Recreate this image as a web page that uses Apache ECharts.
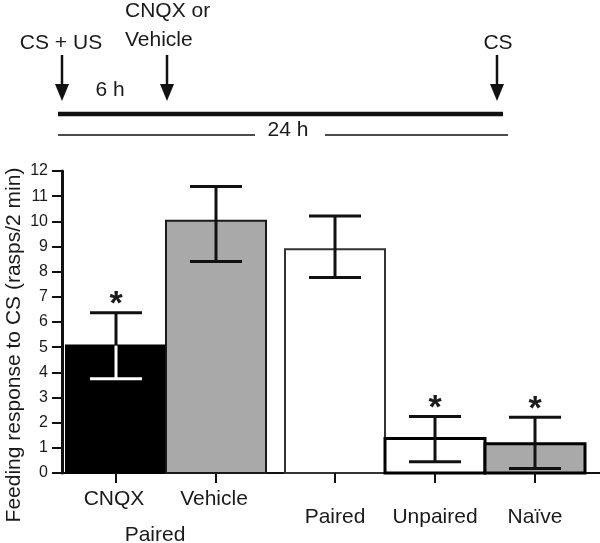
<!DOCTYPE html>
<html lang="en">
<head>
<meta charset="UTF-8">
<title>Feeding response to CS</title>
<script src="https://cdn.jsdelivr.net/npm/echarts@6/dist/echarts.min.js"></script>
<style>
html, body { margin: 0; padding: 0; background: #fff; }
#chart { width: 600px; height: 543px; }
</style>
</head>
<body>
<div id="chart"></div>
<script>
// data
const categories = ['CNQX', 'Vehicle', 'Paired', 'Unpaired', 'Naïve'];
const groupOf = ['Paired', 'Paired', '', '', ''];
const means = [5.07, 10.02, 8.89, 1.37, 1.16];
const upper = [6.37, 11.38, 10.21, 2.25, 2.22];
const lower = [3.75, 8.40, 7.77, 0.45, 0.18];
const significant = [true, false, false, true, true];

// look of each bar
const barLook = [
  { fill: '#000000', stroke: '#000000', lw: 2, whiskerIn: '#ffffff' },
  { fill: '#a9a9a9', stroke: '#1a1a1a', lw: 2, whiskerIn: '#111111' },
  { fill: '#ffffff', stroke: '#333333', lw: 2, whiskerIn: '#111111' },
  { fill: '#ffffff', stroke: '#000000', lw: 3, whiskerIn: '#111111' },
  { fill: '#a9a9a9', stroke: '#000000', lw: 3, whiskerIn: '#111111' }
];
const FONT = '"Liberation Sans", Arial, sans-serif';
const INK = '#1a1a1a';

// x position: one unit per bar, small gap after the grouped pair
const xPos = categories.map((c, i) => i + 0.54 + (groupOf[i] ? 0 : 0.19));
const barData = categories.map((c, i) => [xPos[i], means[i], lower[i], upper[i], i]);

const groupNames = [...new Set(groupOf.filter(g => g))];
const groupData = groupNames.map(g => {
  const xs = xPos.filter((x, i) => groupOf[i] === g);
  return [xs.reduce((a, b) => a + b, 0) / xs.length - 0.11, 0, g];
});

function renderBar(params, api) {
  const i = api.value(4);
  const x = api.value(0);
  const look = barLook[i];
  const tl = api.coord([x - 0.5, api.value(1)]);
  const br = api.coord([x + 0.5, 0]);
  const mid = api.coord([x, api.value(1)]);
  const lo = api.coord([x, api.value(2)]);
  const hi = api.coord([x, api.value(3)]);
  const cap = 26;
  const kids = [
    { type: 'rect', shape: { x: tl[0], y: tl[1], width: br[0] - tl[0], height: br[1] - tl[1] },
      style: { fill: look.fill, stroke: look.stroke, lineWidth: look.lw } },
    { type: 'line', shape: { x1: mid[0], y1: lo[1], x2: mid[0], y2: mid[1] },
      style: { stroke: look.whiskerIn, lineWidth: 3 } },
    { type: 'line', shape: { x1: mid[0] - cap, y1: lo[1], x2: mid[0] + cap, y2: lo[1] },
      style: { stroke: look.whiskerIn, lineWidth: 3 } },
    { type: 'line', shape: { x1: mid[0], y1: mid[1], x2: mid[0], y2: hi[1] },
      style: { stroke: '#111111', lineWidth: 3 } },
    { type: 'line', shape: { x1: mid[0] - cap, y1: hi[1], x2: mid[0] + cap, y2: hi[1] },
      style: { stroke: '#111111', lineWidth: 3 } },
    // tick below the axis
    { type: 'line', shape: { x1: mid[0], y1: br[1], x2: mid[0], y2: br[1] + 10 },
      style: { stroke: '#111111', lineWidth: 2 } },
    { type: 'text', x: mid[0] - (groupOf[i] ? 2 : 0), y: br[1] + (groupOf[i] ? 26 : 44),
      style: { text: categories[i], font: '21px ' + FONT, fill: INK, align: 'center', verticalAlign: 'middle' } }
  ];
  if (significant[i]) {
    kids.push({ type: 'text', x: mid[0], y: hi[1] - 8,
      style: { text: '*', font: 'bold 34px ' + FONT, fill: INK, align: 'center', verticalAlign: 'middle' } });
  }
  return { type: 'group', children: kids };
}

function renderGroup(params, api) {
  const p = api.coord([api.value(0), 0]);
  return { type: 'text', x: p[0], y: p[1] + 62,
    style: { text: groupData[params.dataIndex][2], font: '21px ' + FONT, fill: INK, align: 'center', verticalAlign: 'middle' } };
}

function arrow(x) {
  return [
    { type: 'line', shape: { x1: x, y1: 55, x2: x, y2: 88 }, style: { stroke: '#111', lineWidth: 2.5 } },
    { type: 'polygon', shape: { points: [[x - 7, 84], [x + 7, 84], [x, 101]] }, style: { fill: '#111' } }
  ];
}
function label(text, x, y, align) {
  return { type: 'text', x: x, y: y,
    style: { text: text, font: '21px ' + FONT, fill: INK, align: align || 'center', verticalAlign: 'middle' } };
}

const chart = echarts.init(document.getElementById('chart'));
chart.setOption({
  animation: false,
  grid: { left: 62, right: 0, top: 171, bottom: 70 },
  xAxis: {
    type: 'value', min: 0, max: 5.38,
    axisLine: { show: true, lineStyle: { color: '#111', width: 2 } },
    axisTick: { show: false }, axisLabel: { show: false }, splitLine: { show: false }
  },
  yAxis: {
    type: 'value', min: 0, max: 12, interval: 1,
    axisLine: { show: true, lineStyle: { color: '#111', width: 3 } },
    axisTick: { show: true, length: 10, lineStyle: { color: '#111', width: 2 } },
    axisLabel: { fontSize: 16, fontFamily: FONT, color: INK, margin: 14 },
    splitLine: { show: false }
  },
  graphic: [
    { type: 'text', x: 14, y: 345, rotation: Math.PI / 2,
      style: { text: 'Feeding response to CS (rasps/2 min)', font: '21px ' + FONT, fill: INK, align: 'center', verticalAlign: 'middle' } },
    ...arrow(62), ...arrow(167), ...arrow(497),
    { type: 'line', shape: { x1: 58, y1: 114, x2: 503, y2: 114 }, style: { stroke: '#111', lineWidth: 4.5 } },
    { type: 'line', shape: { x1: 58, y1: 135, x2: 255, y2: 135 }, style: { stroke: '#111', lineWidth: 1.5 } },
    { type: 'line', shape: { x1: 325, y1: 135, x2: 508, y2: 135 }, style: { stroke: '#111', lineWidth: 1.5 } },
    label('CS + US', 61, 43),
    label('CNQX or', 125, 11, 'left'),
    label('Vehicle', 125, 40, 'left'),
    label('CS', 498, 43),
    label('6 h', 110, 90),
    label('24 h', 288, 130)
  ],
  series: [
    { type: 'custom', renderItem: renderBar, data: barData, clip: false, z: 3 },
    { type: 'custom', renderItem: renderGroup, data: groupData, clip: false, z: 3 }
  ]
});
</script>
</body>
</html>
